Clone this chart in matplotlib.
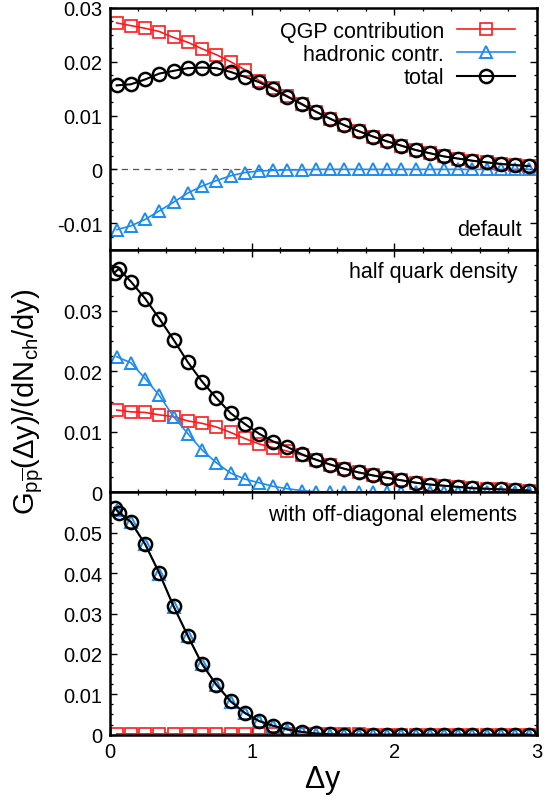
import numpy as np
import matplotlib
matplotlib.use("Agg")
import matplotlib.pyplot as plt
from matplotlib.ticker import MultipleLocator, FuncFormatter

plt.rcParams["font.family"] = ["Liberation Sans", "DejaVu Sans"]
plt.rcParams["mathtext.fontset"] = "custom"
plt.rcParams["mathtext.rm"] = "Liberation Sans"

# rapidity difference grid
dy = np.round(np.arange(0.05, 3.0, 0.1), 2)
# the "total" curves in the lower panels have two points near the origin
dy_total = np.concatenate([[0.035, 0.065], dy[1:]])

# --- default ---
top_qgp = [0.0272, 0.0267, 0.0262, 0.0256, 0.0245, 0.0236, 0.0224, 0.0213, 0.0200, 0.0185,
           0.0165, 0.0151, 0.0136, 0.0122, 0.0107, 0.0094, 0.0082, 0.0071, 0.0061, 0.0052,
           0.0044, 0.0036, 0.0030, 0.0024, 0.0020, 0.0016, 0.0013, 0.0010, 0.0008, 0.0006]
top_had = [-0.0112, -0.0105, -0.0093, -0.0077, -0.0061, -0.0044, -0.0031, -0.0021, -0.0012, -0.0006,
           -0.0003, -0.0002, -0.0001, -0.0001, 0.0, 0.0, 0.0, 0.0, 0.0, 0.0,
           0.0, 0.0, 0.0, 0.0, 0.0, 0.0, 0.0, 0.0, 0.0, 0.0]
top_total = [0.0156, 0.0158, 0.0167, 0.0178, 0.0183, 0.0188, 0.0189, 0.0188, 0.0181, 0.0172,
             0.0162, 0.0149, 0.0135, 0.0121, 0.0107, 0.0094, 0.0082, 0.0071, 0.0061, 0.0052,
             0.0044, 0.0036, 0.0030, 0.0024, 0.0020, 0.0016, 0.0013, 0.0010, 0.0008, 0.0006]

# --- half quark density ---
mid_qgp = [0.0136, 0.0133, 0.0132, 0.0128, 0.0125, 0.0118, 0.0114, 0.0108, 0.0099, 0.0089,
           0.0080, 0.0074, 0.0068, 0.0062, 0.0054, 0.0046, 0.0039, 0.0033, 0.0028, 0.0024,
           0.0020, 0.0016, 0.0013, 0.0011, 0.0009, 0.0007, 0.0006, 0.0005, 0.0004, 0.0003]
mid_had = [0.0224, 0.0214, 0.0188, 0.0160, 0.0125, 0.0097, 0.0070, 0.0049, 0.0032, 0.0022,
           0.0016, 0.0010, 0.0006, 0.0003, 0.0001, 0.0, 0.0, 0.0, 0.0, 0.0,
           0.0, 0.0, 0.0, 0.0, 0.0, 0.0, 0.0, 0.0, 0.0, 0.0]
mid_total = [0.0363, 0.0369, 0.0348, 0.0320, 0.0287, 0.0252, 0.0215, 0.0183, 0.0156, 0.0131,
             0.0113, 0.0097, 0.0084, 0.0075, 0.0063, 0.0054, 0.0046, 0.0039, 0.0033, 0.0028,
             0.0024, 0.0020, 0.0016, 0.0013, 0.0011, 0.0009, 0.0007, 0.0006, 0.0005, 0.0004,
             0.0003]

# --- with off-diagonal elements ---
bot_qgp = [0.0002, 0.0002, 0.0002, 0.0002, 0.0002, 0.0002, 0.0002, 0.0002, 0.0002, 0.0002,
           0.0002, 0.0002, 0.0001, 0.0001, 0.0001, 0.0001, 0.0001, 0.0001, 0.0, 0.0,
           0.0, 0.0, 0.0, 0.0, 0.0, 0.0, 0.0, 0.0, 0.0, 0.0]
bot_had = [0.0557, 0.0526, 0.0471, 0.0399, 0.0317, 0.0244, 0.0174, 0.0123, 0.0082, 0.0053,
           0.0033, 0.0021, 0.0012, 0.0006, 0.0002, 0.0, 0.0, 0.0, 0.0, 0.0,
           0.0, 0.0, 0.0, 0.0, 0.0, 0.0, 0.0, 0.0, 0.0, 0.0]
bot_total = [0.0562, 0.0550, 0.0527, 0.0472, 0.0400, 0.0318, 0.0245, 0.0175, 0.0124, 0.0083,
             0.0054, 0.0034, 0.0022, 0.0013, 0.0007, 0.0003, 0.0001, 0.0, 0.0, 0.0,
             0.0, 0.0, 0.0, 0.0, 0.0, 0.0, 0.0, 0.0, 0.0, 0.0, 0.0]

panels = [
    ("default", top_qgp, top_had, top_total, (-0.015, 0.03), [-0.01, 0, 0.01, 0.02, 0.03]),
    ("half quark density", mid_qgp, mid_had, mid_total, (0, 0.04), [0, 0.01, 0.02, 0.03]),
    ("with off-diagonal elements", bot_qgp, bot_had, bot_total, (0, 0.06),
     [0, 0.01, 0.02, 0.03, 0.04, 0.05]),
]

RED = "#ff1a1a"
BLUE = "#1c8cf0"

fig, axes = plt.subplots(3, 1, figsize=(5.56, 8.04), dpi=100, sharex=True)
fig.subplots_adjust(left=0.197, right=0.965, top=0.989, bottom=0.085, hspace=0)

fmt = FuncFormatter(lambda v, pos: "%g" % round(v, 4))

for i, (name, qgp, had, tot, ylim, yt) in enumerate(panels):
    ax = axes[i]
    x_tot = dy if len(tot) == len(dy) else dy_total
    ax.plot(dy, qgp, "-", color=RED, lw=1.2, marker="s", ms=9, mfc="none", mew=1.2,
            label="QGP contribution")
    ax.plot(dy, had, "-", color=BLUE, lw=1.2, marker="^", ms=9, mfc="none", mew=1.4,
            label="hadronic contr.")
    ax.plot(x_tot, tot, "-", color="black", lw=1.5, marker="o", ms=9.5, mfc="none", mew=1.8,
            label="total")
    if i == 0:
        ax.axhline(0, color="#555555", lw=0.9, ls=(0, (5, 4)), zorder=0)
        ax.legend(loc="upper right", frameon=False, markerfirst=False, fontsize=15.5,
                  handlelength=2.7, handletextpad=0.6, labelspacing=0.1,
                  borderaxespad=0.2, bbox_to_anchor=(0.98, 1.0))
        ax.text(0.965, 0.04, name, transform=ax.transAxes, ha="right", va="bottom",
                fontsize=15.5)
    else:
        ax.text(0.955, 0.91, name, transform=ax.transAxes, ha="right", va="center",
                fontsize=15.5)
    ax.set_xlim(0, 3)
    ax.set_ylim(*ylim)
    ax.set_yticks(yt)
    ax.yaxis.set_major_formatter(fmt)
    ax.yaxis.set_minor_locator(MultipleLocator(0.0025))
    ax.xaxis.set_major_locator(MultipleLocator(1))
    ax.xaxis.set_minor_locator(MultipleLocator(0.2))
    ax.tick_params(which="both", direction="in", top=True, right=True, labelsize=14.5)
    ax.tick_params(which="major", length=5, width=1.0, pad=5)
    ax.tick_params(which="minor", length=2.5, width=0.9)
    for sp in ax.spines.values():
        sp.set_linewidth(1.8)

axes[2].xaxis.set_major_formatter(fmt)
axes[2].set_xlabel(r"$\Delta$y", fontsize=22, labelpad=2)
fig.text(0.052, 0.5, r"$\mathregular{G_{p\overline{p}}(\Delta y)/(dN_{ch}/dy)}$",
         rotation=90, ha="center", va="center", fontsize=21)

fig.savefig("out.png", dpi=100)
